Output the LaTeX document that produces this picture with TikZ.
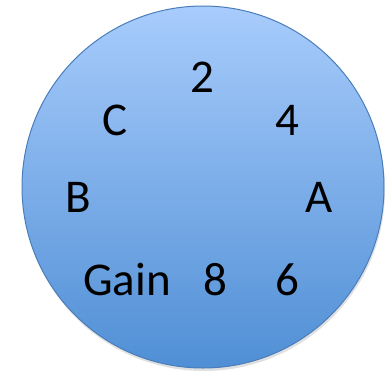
\documentclass[tikz,border=0pt]{standalone}
\usepackage{fontspec}
\setmainfont{Carlito}
\definecolor{topblue}{RGB}{168,204,252}
\definecolor{botblue}{RGB}{80,143,213}
\definecolor{edgeblue}{RGB}{74,126,187}
\tikzset{lbl/.style={anchor=base, inner sep=0pt, font=\fontsize{47}{52}\selectfont, text=black}}
\begin{document}
\begin{tikzpicture}[x=1pt,y=-1pt]
\useasboundingbox (0,0) rectangle (386,373);
\fill[black!30, opacity=0.4] (204,190) circle (181);
\node[circle, draw=edgeblue, line width=1pt, minimum size=362pt, inner sep=0pt,
  top color=topblue, bottom color=botblue] (disc) at (203,187) {};
\node[lbl] (two) at (202,92) {2};
\node[lbl] (c) at (115,135) {C};
\node[lbl] (four) at (287,135) {4};
\node[lbl] (b) at (78,212) {B};
\node[lbl] (a) at (319,212) {A};
\node[lbl] (gain) at (127,295) {Gain};
\node[lbl] (eight) at (215,295) {8};
\node[lbl] (six) at (287,295) {6};
\end{tikzpicture}
\end{document}
